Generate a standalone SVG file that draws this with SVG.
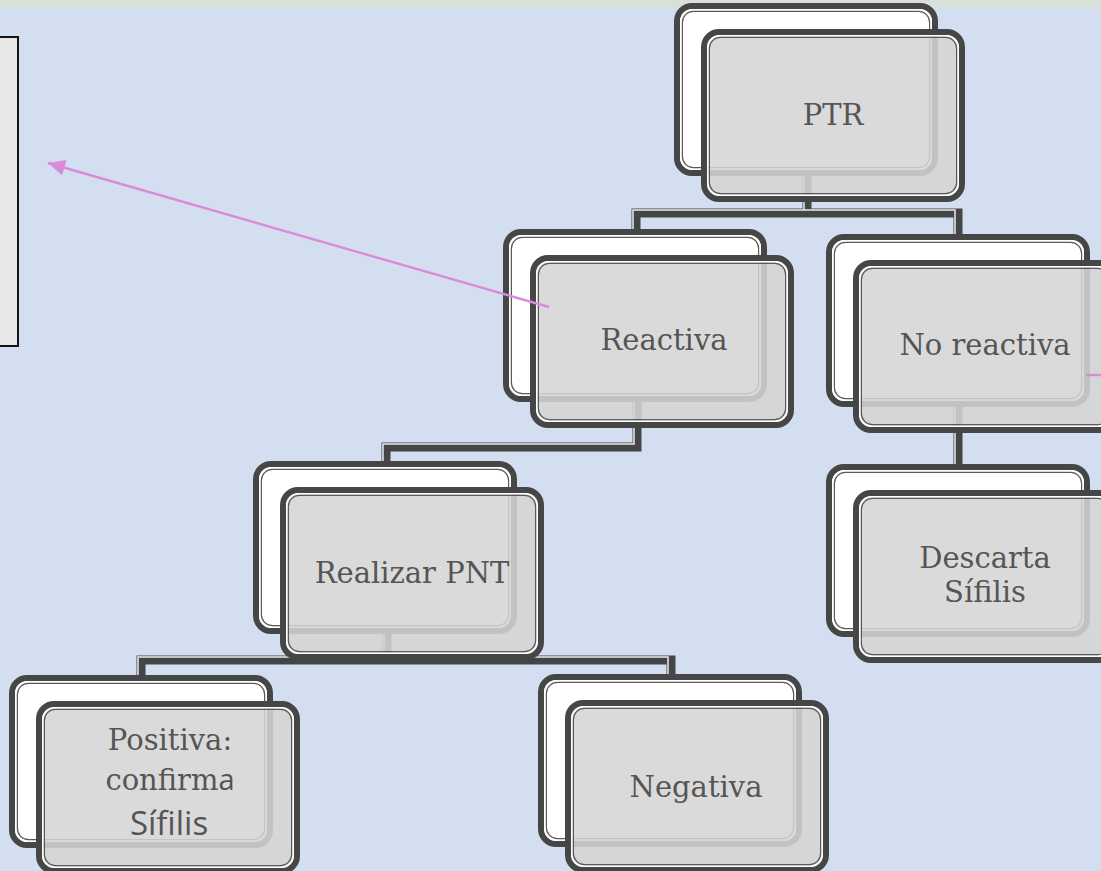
<svg xmlns="http://www.w3.org/2000/svg" width="1101" height="871" viewBox="0 0 1101 871">
<style>
.bg{fill:#d3dff0}
.bo{fill:#ffffff;stroke:#464646;stroke-width:6}
.fo{fill:#d4d4d4;fill-opacity:0.87;stroke:#464646;stroke-width:6}
.wl{fill:none;stroke:#ffffff;stroke-width:1.6}
.dl{fill:none;stroke:#5a5a5a;stroke-width:1.2}
.cd{fill:none;stroke:#454545;stroke-width:9}
.cw{fill:none;stroke:#e8ecf2;stroke-width:1.5}
.t{font-family:"DejaVu Serif","Liberation Serif",serif;font-size:29px;fill:#555555;text-anchor:middle}
.s{font-family:"Open Sans","Liberation Sans",sans-serif}
.big{font-size:33px}
.pk{fill:none;stroke:#d98bd8;stroke-width:2.4}
</style>
<defs>
<marker id="ah" markerUnits="userSpaceOnUse" markerWidth="20" markerHeight="16" refX="17" refY="8" orient="auto">
<path d="M0,0 L17,8 L0,16 Z" fill="#d98bd8"/>
</marker>
<g id="card">
<rect class="bo" x="0" y="0" width="258" height="167" rx="15"/>
<rect class="wl" x="3.8" y="3.8" width="250.4" height="159.4" rx="12"/>
<rect class="dl" x="5.4" y="5.4" width="247.2" height="156.2" rx="11"/>
<rect class="fo" x="27" y="26" width="258" height="167" rx="15"/>
<rect class="wl" x="30.8" y="29.8" width="250.4" height="159.4" rx="12"/>
<rect class="dl" x="32.4" y="31.4" width="247.2" height="156.2" rx="11"/>
</g>
</defs>
<rect class="bg" x="0" y="0" width="1101" height="871"/>
<rect x="0" y="0" width="1101" height="9" fill="#d7e0d9"/>
<rect x="-3" y="37" width="21" height="309" fill="#e7e7e7" stroke="#151515" stroke-width="2"/>
<g id="connectors">
<path class="cd" d="M807,175 V213 H636 V234 M807,213 H958 V239"/>
<path class="cw" transform="translate(-3,-3)" d="M807,178 V213 H636 V236 M807,213 H958 V241"/>
<path class="cd" d="M637,401 V447 H386 V465"/>
<path class="cw" transform="translate(-3,-3)" d="M637,404 V447 H386 V467"/>
<path class="cd" d="M958,405 V469"/>
<path class="cw" transform="translate(-3,0)" d="M958,405 V469"/>
<path class="cd" d="M387,634 V660 H141 V680 M387,660 H671 V679"/>
<path class="cw" transform="translate(-3,-3)" d="M387,637 V660 H141 V682 M387,660 H671 V681"/>
</g>
<g id="n-ptr" transform="translate(677,6)"><use href="#card"/><text class="t" x="156" y="119">PTR</text></g>
<g id="n-reactiva" transform="translate(506,232)"><use href="#card"/><text class="t" x="158" y="118">Reactiva</text></g>
<g id="n-noreactiva" transform="translate(829,237)"><use href="#card"/><text class="t" x="156" y="118">No reactiva</text></g>
<g id="n-pnt" transform="translate(256,464)"><use href="#card"/><text class="t" x="156" y="119">Realizar PNT</text></g>
<g id="n-descarta" transform="translate(829,467)"><use href="#card"/><text class="t" x="156" y="101">Descarta</text><text class="t" x="156" y="135">Sífilis</text></g>
<g id="n-positiva" transform="translate(12,678)"><use href="#card"/><text class="t" x="158" y="72">Positiva:</text><text class="t" x="158" y="112">confirm<tspan class="s">a</tspan></text><text class="t s big" x="157" y="157">Sífilis</text></g>
<g id="n-negativa" transform="translate(541,677)"><use href="#card"/><text class="t" x="155" y="120">Negativa</text></g>
<g id="arrows">
<line class="pk" x1="549" y1="307" x2="48" y2="163" marker-end="url(#ah)"/>
<line class="pk" x1="1086" y1="375" x2="1101" y2="375"/>
</g>
</svg>
